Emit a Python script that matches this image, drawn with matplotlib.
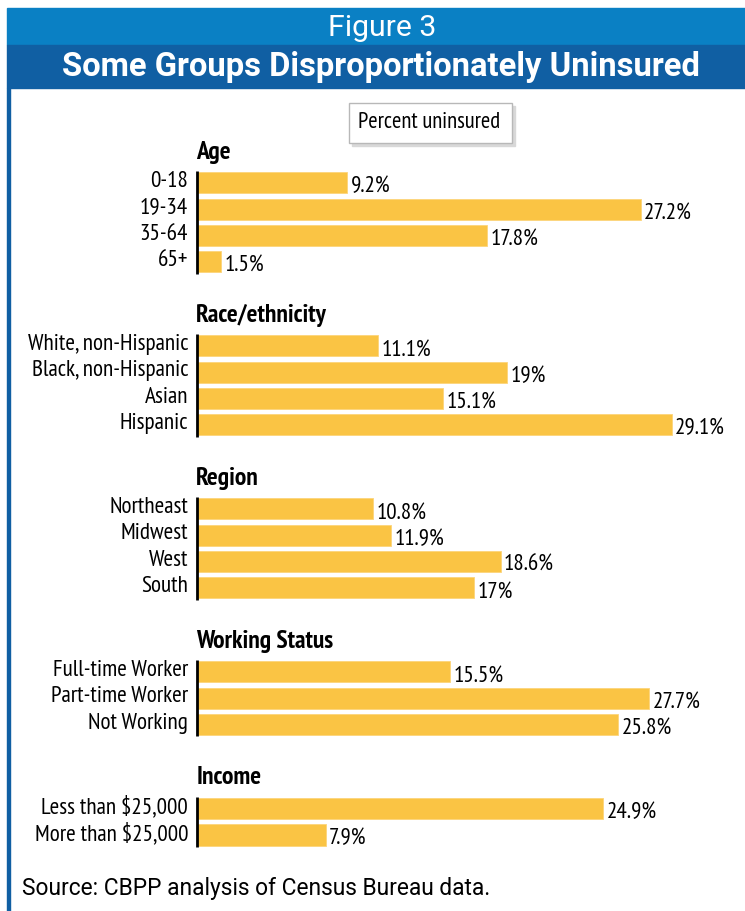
from matplotlib import pyplot as plt
from matplotlib import font_manager as fm
from matplotlib.patches import Rectangle

# data
groups = ['Age', 'Race/ethnicity', 'Region', 'Working Status', 'Income']
age_labels = ['0-18', '19-34', '35-64', '65+']
age_values = [9.2, 27.2, 17.8, 1.5]
race_labels = ['White, non-Hispanic', 'Black, non-Hispanic', 'Asian', 'Hispanic']
race_values = [11.1, 19, 15.1, 29.1]
region_labels = ['Northeast', 'Midwest', 'West', 'South']
region_values = [10.8, 11.9, 18.6, 17]
work_labels = ['Full-time Worker', 'Part-time Worker', 'Not Working']
work_values = [15.5, 27.7, 25.8]
income_labels = ['Less than $25,000', 'More than $25,000']
income_values = [24.9, 7.9]

all_labels = [age_labels, race_labels, region_labels, work_labels, income_labels]
all_values = [age_values, race_values, region_values, work_values, income_values]

BAR = '#fac444'
LIGHT_BLUE = '#0a80c4'
DARK_BLUE = '#105fa3'

installed = {f.name for f in fm.fontManager.ttflist}


def pick(*names):
    for n in names:
        if n in installed:
            return [n, 'DejaVu Sans']
    return ['DejaVu Sans']


NARROW = pick('PT Sans Narrow', 'Roboto Condensed', 'Open Sans Condensed',
              'Archivo Narrow', 'Fira Sans Condensed', 'Liberation Sans Narrow')
HEAD = pick('Roboto', 'Open Sans')

W, H = 745, 911
fig = plt.figure(figsize=(W / 100, H / 100), dpi=100)
renderer = fig.canvas.get_renderer()


def fit(t, width):
    # scale a text's font size so it spans about `width` pixels
    w = t.get_window_extent(renderer).width
    t.set_fontsize(t.get_fontsize() * width / w)
    return t


# header bands and left border
fig.patches.append(Rectangle((7 / W, 1 - 45 / H), 1, 37 / H, transform=fig.transFigure,
                             color=LIGHT_BLUE, zorder=0))
fig.patches.append(Rectangle((7 / W, 1 - 88 / H), 1, 43 / H, transform=fig.transFigure,
                             color=DARK_BLUE, zorder=0))
fig.patches.append(Rectangle((7 / W, 0), 3 / W, 1 - 88 / H, transform=fig.transFigure,
                             color=DARK_BLUE, zorder=0))
fit(fig.text(382 / W, 1 - 28 / H, 'Figure 3', color='white', fontsize=17,
             family=HEAD, ha='center', va='center'), 109)
fit(fig.text(381 / W, 1 - 67 / H, 'Some Groups Disproportionately Uninsured', color='white',
             fontsize=20, family=HEAD, weight='bold', ha='center', va='center'), 638)

# label font sizes fitted to the reference widths
probe = fig.text(0, 0, 'White, non-Hispanic', family=NARROW, fontsize=14)
lab_fs = fit(probe, 161).get_fontsize()
probe.set_text('Race/ethnicity')
probe.set_weight('bold')
head_fs = fit(probe, 131).get_fontsize()
probe.remove()

# chart area: x in percent, y in row units (Age heading at 0)
px_per_pct = 16.32
pitch = 26.3
ax = fig.add_axes([0, 0, 1, 1])
ax.set_xlim(-197 / px_per_pct, (W - 197) / px_per_pct)
ax.set_ylim((H - 152) / pitch, -152 / pitch)
ax.axis('off')

y = 0.0
for name, labels, values in zip(groups, all_labels, all_values):
    ax.text(-0.05, y, name, family=NARROW, weight='bold', fontsize=head_fs,
            ha='left', va='center')
    ys = [y + 1.17 + i for i in range(len(values))]
    ax.barh(ys, values, height=0.8, color=BAR, edgecolor='#fcd47a', linewidth=0.6)
    ax.plot([0, 0], [ys[0] - 0.45, ys[-1] + 0.45], color='black', lw=2,
            solid_capstyle='butt')
    for yy, lab, v in zip(ys, labels, values):
        ax.text(-0.55, yy - 0.05, lab, family=NARROW, fontsize=lab_fs,
                ha='right', va='center')
        ax.text(v + 0.2, yy + 0.15, f'{v:g}%', family=NARROW, fontsize=lab_fs,
                ha='left', va='center')
    y = ys[-1] + 2.03

# "Percent uninsured" box
fig.patches.append(Rectangle((352 / W, 1 - 146 / H), 163 / W, 40 / H,
                             transform=fig.transFigure, color='#d8d8d8', zorder=1))
fig.patches.append(Rectangle((349 / W, 1 - 143 / H), 163 / W, 40 / H,
                             transform=fig.transFigure, facecolor='white',
                             edgecolor='#b8b8b8', lw=1, zorder=2))
fit(fig.text(429 / W, 1 - 123 / H, 'Percent uninsured', family=NARROW, fontsize=14,
             ha='center', va='center', zorder=3), 143)

fit(fig.text(22 / W, 1 - 889 / H, 'Source: CBPP analysis of Census Bureau data.',
             family=HEAD, fontsize=13, ha='left', va='center'), 470)

plt.savefig('out.png', dpi=100)
